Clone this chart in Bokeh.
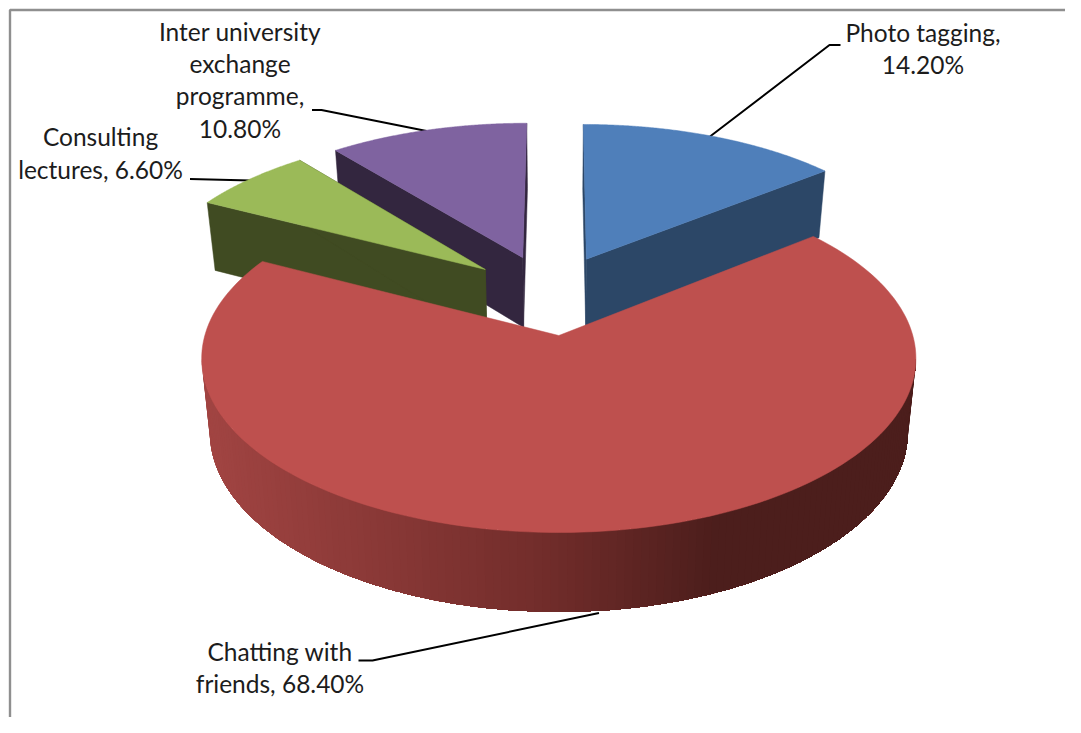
import numpy as np
from bokeh.plotting import figure
from bokeh.models import Range1d
from bokeh.core.properties import value
from bokeh.embed import file_html
from bokeh.resources import INLINE

# ---- data (in pie order, clockwise from 12 o'clock)
categories = ["Photo tagging", "Chatting with friends", "Consulting lectures",
              "Inter university exchange programme"]
values = [14.20, 68.40, 6.60, 10.80]
top_colors = ["#4F7FBA", "#BE504E", "#9BBA58", "#7F63A0"]
wall_colors = ["#2C4767", "#4C1E1C", "#404B22", "#33263F"]
label_lines = [
    ["Photo tagging,", "{v}"],
    ["Chatting with", "friends, {v}"],
    ["Consulting", "lectures, {v}"],
    ["Inter university", "exchange", "programme,", "{v}"],
]

# ---- layout and projection constants
W, H = 1065, 717
CX = 558.3
TOP = dict(y0=335.0, R=354.0, H=171.0)
BOT = dict(y0=407.5, R=346.0, H=177.0)
PERSP = 0.132
EXPLODE = 0.25
RED = 1

label_x = [922.5, 279.5, 100, 239.5]
label_y = [[32, 64], [651, 683], [136, 169], [31, 63, 95, 128]]
leaders = [
    ([709.5, 829, 840], [136, 44.5, 44.5]),
    ([598.5, 372, 358], [612.5, 660, 660]),
    ([250, 189.5], [180, 178.5]),
    ([426, 321, 311.5], [130.5, 109.5, 109.5]),
]


def project(u, v, plane):
    d = 1 + PERSP * v
    return CX + plane["R"] * u / d, plane["y0"] - plane["H"] * v / d


total = float(sum(values))
edges = np.cumsum([0.0] + values) / total * 2 * np.pi
mids = (edges[:-1] + edges[1:]) / 2
off_u = EXPLODE * (np.sin(mids) - np.sin(mids[RED]))
off_v = EXPLODE * (np.cos(mids) - np.cos(mids[RED]))


def top_outline(i):
    th = np.linspace(edges[i], edges[i + 1], 160)
    u = np.r_[off_u[i], off_u[i] + np.sin(th)]
    v = np.r_[off_v[i], off_v[i] + np.cos(th)]
    return project(u, v, TOP)


def radial_wall(i, theta):
    u = np.array([off_u[i], off_u[i] + np.sin(theta)])
    v = np.array([off_v[i], off_v[i] + np.cos(theta)])
    x1, y1 = project(u, v, TOP)
    x2, y2 = project(u, v, BOT)
    return np.r_[x1, x2[::-1]], np.r_[y1, y2[::-1]]


def wall_shade(x):
    stops_x = [205, 540, 712]
    r = np.interp(x, stops_x, [162, 114, 76])
    g = np.interp(x, stops_x, [69, 45, 30])
    b = np.interp(x, stops_x, [67, 43, 28])
    return "#%02x%02x%02x" % (int(r), int(g), int(b))


p = figure(width=W, height=H, output_backend="svg", toolbar_location=None,
           x_range=Range1d(0, W), y_range=Range1d(H, 0),
           min_border=0, border_fill_color="white", background_fill_color="white")
p.axis.visible = False
p.grid.visible = False
p.outline_line_color = None

p.line([9.5, 9.5, W], [H, 9.5, 9.5], line_color="#8F8F8F", line_width=2.4)

for lx, ly in leaders:
    p.line(lx, ly, line_color="#000000", line_width=2)

for i in [3, 2, 0]:
    for theta in (edges[i], edges[i + 1]):
        wx, wy = radial_wall(i, theta)
        p.patch(wx, wy, fill_color=wall_colors[i], line_color=wall_colors[i], line_width=0.5)
    tx, ty = top_outline(i)
    p.patch(tx, ty, fill_color=top_colors[i], line_color=top_colors[i], line_width=0.5)

# rim of the large slice: overlapping strips painted from the left, so no seams show
a0 = max(np.arccos(-PERSP), edges[RED])
a1 = min(2 * np.pi - np.arccos(-PERSP), edges[RED + 1])
N = 140
steps = np.linspace(a1, a0, N + 1)
for k, s in enumerate(steps[:-1]):
    th = np.linspace(s, a0, N - k + 1)
    u, v = off_u[RED] + np.sin(th), off_v[RED] + np.cos(th)
    x1, y1 = project(u, v, TOP)
    x2, y2 = project(u, v, BOT)
    c = wall_shade((x1[0] + x2[0]) / 2)
    p.patch(np.r_[x1, x2[::-1]], np.r_[y1, y2[::-1]], fill_color=c, line_color=None)

tx, ty = top_outline(RED)
p.patch(tx, ty, fill_color=top_colors[RED], line_color=top_colors[RED], line_width=0.5)

for i, lines in enumerate(label_lines):
    for line, y in zip(lines, label_y[i]):
        p.text([label_x[i]], [y], text=[line.format(v="%.2f%%" % values[i])],
               text_font=value("Lato"), text_font_size="24.5px", text_color="#1C1C1C",
               text_align="center", text_baseline="middle")

open("out.html", "w").write(file_html(p, INLINE))
